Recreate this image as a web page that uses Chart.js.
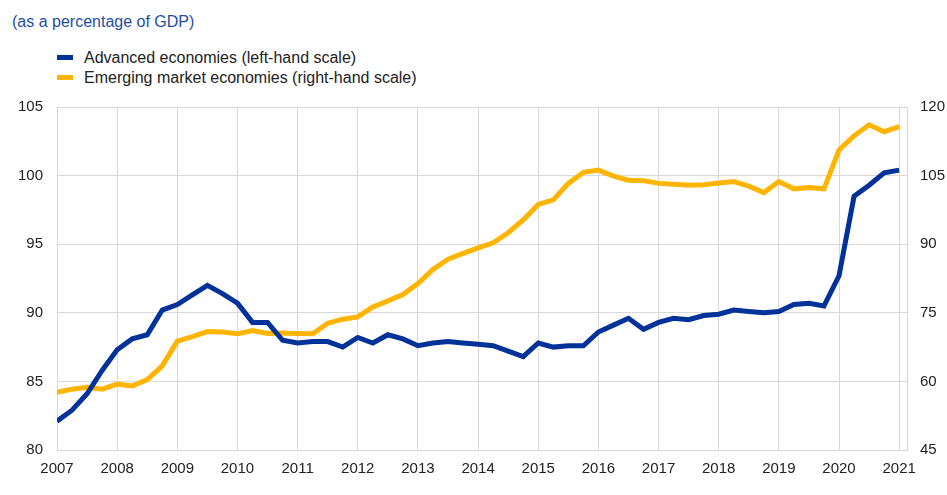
<!DOCTYPE html>
<html>
<head>
<meta charset="utf-8">
<script src="https://cdn.jsdelivr.net/npm/chart.js@4.4.1/dist/chart.umd.min.js"></script>
<style>
  html, body { margin: 0; padding: 0; background: #fff; }
  body { width: 947px; height: 495px; position: relative; overflow: hidden;
         font-family: "Liberation Sans", Arial, sans-serif; }
  #subtitle { position: absolute; left: 12px; top: 13px; font-size: 16px; color: #1f4ea1; }
  .legend-row { position: absolute; left: 57px; font-size: 16px; color: #222; white-space: nowrap; }
  .legend-row span.key { display: inline-block; width: 16px; height: 5px; vertical-align: middle;
                         margin-right: 11px; position: relative; top: -1px; }
  #chartWrap { position: absolute; left: 0; top: 0; width: 947px; height: 495px; }
</style>
</head>
<body>
<div id="subtitle">(as a percentage of GDP)</div>
<div class="legend-row" style="top:49px"><span class="key" style="background:#003299"></span>Advanced economies (left-hand scale)</div>
<div class="legend-row" style="top:69px"><span class="key" style="background:#ffb400"></span>Emerging market economies (right-hand scale)</div>
<div id="chartWrap"><canvas id="chart" width="947" height="495"></canvas></div>
<script>
  // quarterly observations, 2007 Q1 .. 2021 Q1
  const firstYear = 2007;
  const quarterCount = 57;
  const yearTicks = [2007, 2008, 2009, 2010, 2011, 2012, 2013, 2014, 2015, 2016, 2017, 2018, 2019, 2020, 2021];

  // advanced economies, left-hand scale
  const advanced = [
    82.1, 82.9, 84.1, 85.8, 87.3, 88.1, 88.4, 90.2,
    90.6, 91.3, 92.0, 91.4, 90.7, 89.3, 89.3, 88.0,
    87.8, 87.9, 87.9, 87.5, 88.2, 87.8, 88.4, 88.1,
    87.6, 87.8, 87.9, 87.8, 87.7, 87.6, 87.2, 86.8,
    87.8, 87.5, 87.6, 87.6, 88.6, 89.1, 89.6, 88.8,
    89.3, 89.6, 89.5, 89.8, 89.9, 90.2, 90.1, 90.0,
    90.1, 90.6, 90.7, 90.5, 92.7, 98.5, 99.3, 100.2,
    100.4
  ];

  // emerging market economies, right-hand scale
  const emerging = [
    57.6, 58.3, 58.7, 58.3, 59.4, 59.0, 60.4, 63.4,
    68.8, 69.8, 70.9, 70.8, 70.4, 71.1, 70.5, 70.6,
    70.5, 70.4, 72.7, 73.6, 74.1, 76.3, 77.6, 79.0,
    81.4, 84.5, 86.7, 88.0, 89.2, 90.3, 92.5, 95.3,
    98.7, 99.7, 103.3, 105.7, 106.2, 104.9, 104.0, 103.9,
    103.3, 103.1, 102.9, 103.0, 103.4, 103.7, 102.7, 101.3,
    103.7, 102.1, 102.4, 102.1, 110.6, 113.7, 116.1, 114.6,
    115.7
  ];

  const quarters = [];
  for (let i = 0; i < quarterCount; i++) quarters.push(firstYear + i / 4);

  const toPoints = (arr) => arr.map((v, i) => ({ x: quarters[i], y: v }));

  const gridColor = "#d9d9d9";
  const tickFont = { family: "'Liberation Sans', Arial, sans-serif", size: 15 };

  new Chart(document.getElementById("chart").getContext("2d"), {
    type: "line",
    data: {
      datasets: [
        {
          label: "Advanced economies (left-hand scale)",
          data: toPoints(advanced),
          yAxisID: "y",
          borderColor: "#003299",
          borderWidth: 5,
          pointRadius: 0,
          tension: 0,
          order: 1,
        },
        {
          label: "Emerging market economies (right-hand scale)",
          data: toPoints(emerging),
          yAxisID: "y1",
          borderColor: "#ffb400",
          borderWidth: 5,
          pointRadius: 0,
          tension: 0,
          order: 2,
        },
      ],
    },
    options: {
      responsive: false,
      animation: false,
      layout: { padding: { top: 107, left: 0, right: 0, bottom: 0 } },
      plugins: { legend: { display: false }, tooltip: { enabled: false } },
      scales: {
        x: {
          type: "linear",
          min: 2007,
          max: 2021.13,
          afterBuildTicks: (axis) => { axis.ticks = yearTicks.map((v) => ({ value: v })); },
          afterFit: (axis) => { axis.height = 45; },
          grid: { color: gridColor, drawTicks: false },
          border: { color: gridColor },
          ticks: { color: "#222", font: tickFont, padding: 10, maxRotation: 0,
                   callback: (v) => String(v) },
        },
        y: {
          position: "left",
          min: 80,
          max: 105,
          afterFit: (axis) => { axis.width = 57; },
          grid: { color: gridColor, drawTicks: false },
          border: { color: gridColor },
          ticks: { stepSize: 5, color: "#222", font: tickFont, padding: 14 },
        },
        y1: {
          position: "right",
          min: 45,
          max: 120,
          afterFit: (axis) => { axis.width = 40; },
          grid: { display: false, drawTicks: false },
          border: { color: gridColor },
          ticks: { stepSize: 15, color: "#222", font: tickFont, padding: 13 },
        },
      },
    },
  });
</script>
</body>
</html>
